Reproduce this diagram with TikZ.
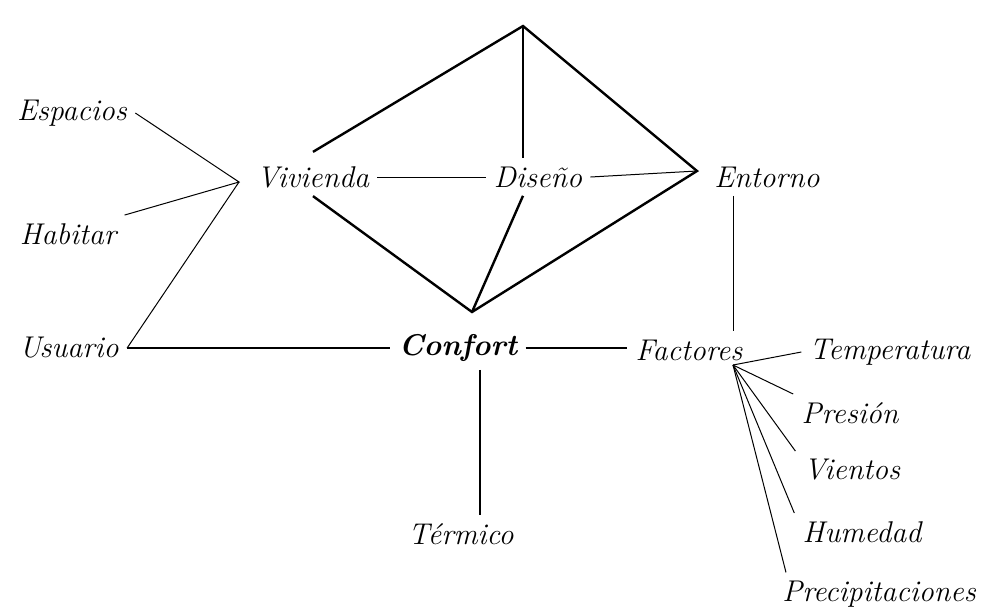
\documentclass[tikz,border=0pt]{standalone}
\usepackage{tikz}

\begin{document}
\begin{tikzpicture}[x=0.5pt, y=-0.5pt,
  word/.style={font=\itshape\fontsize{15}{17}\selectfont, inner xsep=4pt, inner ysep=4pt},
  weak/.style={line width=0.5pt},
  strong/.style={line width=1.2pt}]
\useasboundingbox (0,0) rectangle (981,607);
% words
\node [word] (esp) at (72, 113) {Espacios};
\node [word] (hab) at (68, 234) {Habitar};
\node [word] (usu) at (69, 348) {Usuario};
\node [word] (viv) at (313, 177) {Vivienda};
\node [word] (dis) at (538, 177) {Diseño};
\node [word] (ent) at (767, 177) {Entorno};
\node [word, font=\bfseries\itshape\fontsize{15}{17}\selectfont] (cnf) at (458, 348) {Confort};
\node [word] (fac) at (689, 350) {Factores};
\node [word] (ter) at (461, 534) {Térmico};
\node [word] (tem) at (890, 352) {Temperatura};
\node [word] (pre) at (850, 413) {Presión};
\node [word] (vie) at (852, 470) {Vientos};
\node [word] (hum) at (862, 532) {Humedad};
\node [word, anchor=west] (pcp) at (774, 594) {Precipitaciones};
% junctions
\coordinate (top) at (523, 26);
\coordinate (entJ) at (697, 171);
\coordinate (cnfJ) at (472, 312);
\coordinate (vivJ) at (239, 182);
\coordinate (facJ) at (733, 365);
% diamond
\draw [strong] ([yshift=3pt]viv.north) -- (top) -- (entJ) -- (cnfJ) -- (viv.south);
\draw [strong] (top) -- (top |- dis.north);
\draw [strong] (top |- dis.south) -- (cnfJ);
\draw [weak] (viv.east) -- (dis.west);
\draw [weak] (dis.east) -- (entJ);
% left side
\draw [weak] (esp.east) -- (vivJ) -- (hab.north east);
\draw [weak] (vivJ) -- (usu.east);
\draw [strong] (usu.east) -- (usu.east -| cnf.west);
\draw [strong] (cnf.east) -- (cnf.east -| fac.west);
\draw [strong] ([xshift=11pt]cnf.south) -- ([xshift=11pt]cnf.south |- ter.north);
% factores
\draw [weak] (facJ |- ent.south) -- (facJ |- fac.north);
\foreach \f in {tem.west, pre.north west, vie.north west, hum.north west}{\draw [weak] (facJ) -- (\f);}
\draw [weak] (facJ) -- ([xshift=6pt]pcp.north west);
\end{tikzpicture}
\end{document}
